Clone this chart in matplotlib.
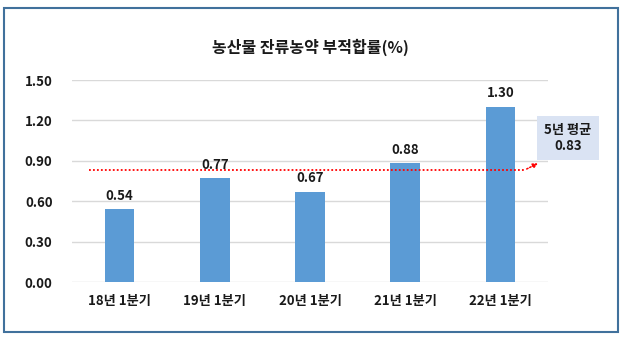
import matplotlib.pyplot as plt
from matplotlib.patches import Rectangle

plt.rcParams['font.family'] = ['Noto Sans CJK KR', 'DejaVu Sans']
plt.rcParams['font.weight'] = 'bold'

quarters = ['18년 1분기', '19년 1분기', '20년 1분기', '21년 1분기', '22년 1분기']
rates = [0.54, 0.77, 0.67, 0.88, 1.30]
avg_rate = 0.83
y_ticks = [0.00, 0.30, 0.60, 0.90, 1.20, 1.50]

fig = plt.figure(figsize=(6.25, 3.4), dpi=100)
fig.patch.set_facecolor('white')

# outer frame
fig.patches.append(Rectangle((4 / 625, 8 / 340), 614 / 625, 324 / 340,
                             transform=fig.transFigure, fill=False,
                             edgecolor='#41719C', linewidth=1.5))

ax = fig.add_axes([72 / 625, 58 / 340, 476 / 625, 202 / 340])
x = range(len(quarters))
ax.bar(x, rates, width=0.31, color='#5B9BD5', zorder=3)
for xi, v in zip(x, rates):
    ax.text(xi, v + 0.05, f'{v:.2f}', ha='center', va='bottom',
            fontsize=9.5, fontweight='bold', color='#1a1a1a')

ax.set_xlim(-0.5, len(quarters) - 0.5)
ax.set_ylim(0, 1.5)
ax.set_yticks(y_ticks)
ax.set_yticklabels([f'{t:.2f}' for t in y_ticks])
ax.set_xticks(list(x))
ax.set_xticklabels(quarters)
ax.tick_params(length=0, labelsize=9.5, colors='#1a1a1a')
ax.tick_params(axis='y', pad=14)
ax.tick_params(axis='x', pad=9)
ax.grid(axis='y', color='#D9D9D9', linewidth=1, zorder=0)
for s in ax.spines.values():
    s.set_visible(False)

# average line with arrow to the note box
ax.plot([-0.32, 4.25], [avg_rate, avg_rate], color='#FF0000', linestyle=(0, (1, 1.2)),
        linewidth=1.3, zorder=4)
ax.annotate('', xy=(4.42, 0.89), xytext=(4.25, avg_rate),
            arrowprops=dict(arrowstyle='-|>', color='#FF0000', linestyle=(0, (1, 1.2)),
                            linewidth=1.1, mutation_scale=7), zorder=4)

fig.text(568 / 625, 1 - 138 / 340, f'5년 평균\n{avg_rate:.2f}', ha='center', va='center',
         fontsize=9.5, fontweight='bold', color='#1a1a1a', linespacing=1.15,
         bbox=dict(boxstyle='square,pad=0.55', facecolor='#DAE3F3', edgecolor='none'))

fig.text(310 / 625, 1 - 47 / 340, '농산물 잔류농약 부적합률(%)', ha='center', va='center',
         fontsize=11.5, fontweight='bold', color='#1a1a1a')

fig.savefig('out.png', dpi=100)
